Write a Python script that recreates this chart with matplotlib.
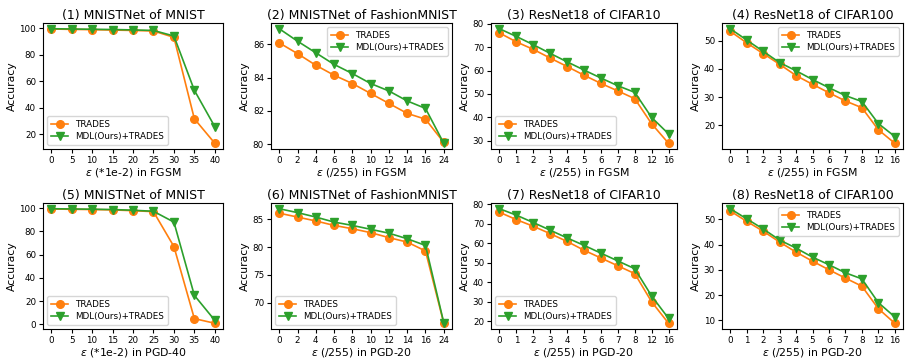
import matplotlib
matplotlib.use("Agg")
import matplotlib.pyplot as plt

titles = ["(1) MNISTNet of MNIST", "(2) MNISTNet of FashionMNIST",
          "(3) ResNet18 of CIFAR10", "(4) ResNet18 of CIFAR100",
          "(5) MNISTNet of MNIST", "(6) MNISTNet of FashionMNIST",
          "(7) ResNet18 of CIFAR10", "(8) ResNet18 of CIFAR100"]
xlabels = [r"$\epsilon$ (*1e-2) in FGSM", r"$\epsilon$ (/255) in FGSM",
           r"$\epsilon$ (/255) in FGSM", r"$\epsilon$ (/255) in FGSM",
           r"$\epsilon$ (*1e-2) in PGD-40", r"$\epsilon$ (/255) in PGD-20",
           r"$\epsilon$ (/255) in PGD-20", r"$\epsilon$ (/255) in PGD-20"]

eps_mnist = ["0", "5", "10", "15", "20", "25", "30", "35", "40"]
eps_fmnist = ["0", "2", "4", "6", "8", "10", "12", "14", "16", "24"]
eps_cifar = ["0", "1", "2", "3", "4", "5", "6", "7", "8", "12", "16"]

trades_1 = [99.3, 99.0, 98.8, 98.5, 98.2, 97.8, 93.0, 31.5, 13.0]
mdl_1 = [99.5, 99.3, 99.1, 98.9, 98.6, 98.2, 94.0, 53.0, 25.5]
trades_2 = [86.1, 85.45, 84.75, 84.15, 83.65, 83.05, 82.45, 81.85, 81.5, 80.1]
mdl_2 = [86.95, 86.2, 85.5, 84.8, 84.25, 83.65, 83.2, 82.6, 82.15, 80.05]
trades_3 = [76.0, 72.2, 69.0, 65.3, 61.7, 58.0, 54.5, 51.3, 48.0, 37.3, 29.0]
mdl_3 = [77.8, 74.5, 71.0, 67.3, 63.7, 60.2, 56.8, 53.5, 50.7, 40.0, 33.0]
trades_4 = [53.3, 49.2, 45.4, 41.6, 37.6, 34.5, 31.5, 28.6, 26.2, 18.4, 13.6]
mdl_4 = [54.2, 50.2, 46.2, 42.2, 39.3, 36.2, 33.3, 30.5, 28.4, 20.6, 16.0]
trades_5 = [99.3, 99.0, 98.8, 98.5, 97.8, 97.0, 67.0, 5.0, 1.0]
mdl_5 = [99.5, 99.3, 99.1, 98.8, 98.2, 97.3, 88.0, 25.0, 3.5]
trades_6 = [86.1, 85.4, 84.7, 83.9, 83.3, 82.6, 81.7, 80.9, 79.3, 66.3]
mdl_6 = [86.9, 86.2, 85.4, 84.5, 83.9, 83.2, 82.5, 81.5, 80.3, 66.4]
trades_7 = [76.0, 72.2, 68.8, 65.0, 61.0, 56.5, 52.5, 48.5, 44.5, 30.0, 19.0]
mdl_7 = [77.8, 74.5, 70.7, 66.8, 62.8, 59.0, 55.0, 51.0, 47.0, 33.0, 21.5]
trades_8 = [53.3, 49.2, 45.3, 41.0, 37.0, 33.4, 30.0, 26.7, 23.5, 14.6, 8.8]
mdl_8 = [54.2, 50.2, 46.2, 41.8, 38.6, 35.0, 32.0, 28.8, 26.4, 17.0, 11.3]

xticks_all = [eps_mnist, eps_fmnist, eps_cifar, eps_cifar,
              eps_mnist, eps_fmnist, eps_cifar, eps_cifar]
trades_all = [trades_1, trades_2, trades_3, trades_4, trades_5, trades_6, trades_7, trades_8]
mdl_all = [mdl_1, mdl_2, mdl_3, mdl_4, mdl_5, mdl_6, mdl_7, mdl_8]
legend_locs = ["lower left", "upper right", "lower left", "upper right",
               "lower left", "lower left", "lower left", "upper right"]
yticks_all = [[20, 40, 60, 80, 100], [80, 82, 84, 86], [30, 40, 50, 60, 70, 80],
              [20, 30, 40, 50], [0, 20, 40, 60, 80, 100], [70, 75, 80, 85],
              [20, 30, 40, 50, 60, 70, 80], [10, 20, 30, 40, 50]]

W, H = 911, 358
fig = plt.figure(figsize=(W / 100, H / 100), dpi=100)
lefts = [43, 271, 491, 722]
rights = [223, 452, 677, 903]
tops = [23, 203]
bottoms = [149, 329]

for i in range(8):
    r, c = divmod(i, 4)
    ax = fig.add_axes([lefts[c] / W, 1 - bottoms[r] / H,
                       (rights[c] - lefts[c]) / W, (bottoms[r] - tops[r]) / H])
    labels = xticks_all[i]
    x = list(range(len(labels)))
    ax.plot(x, trades_all[i], color="#ff7f0e", marker="o", markersize=5.5,
            linewidth=1.2, label="TRADES")
    ax.plot(x, mdl_all[i], color="#2ca02c", marker="v", markersize=5.5,
            linewidth=1.2, label="MDL(Ours)+TRADES")
    ax.set_xticks(x)
    ax.set_xticklabels(labels)
    ax.set_yticks(yticks_all[i])
    ax.tick_params(labelsize=6.3, length=3, pad=2)
    ax.set_title(titles[i], fontsize=9, pad=3)
    ax.set_xlabel(xlabels[i], fontsize=7.8, labelpad=1)
    ax.set_ylabel("Accuracy", fontsize=7.8, labelpad=2)
    ax.legend(loc=legend_locs[i], fontsize=6.3, handlelength=2, borderpad=0.4,
              labelspacing=0.4)

fig.savefig("out.png", dpi=100)
